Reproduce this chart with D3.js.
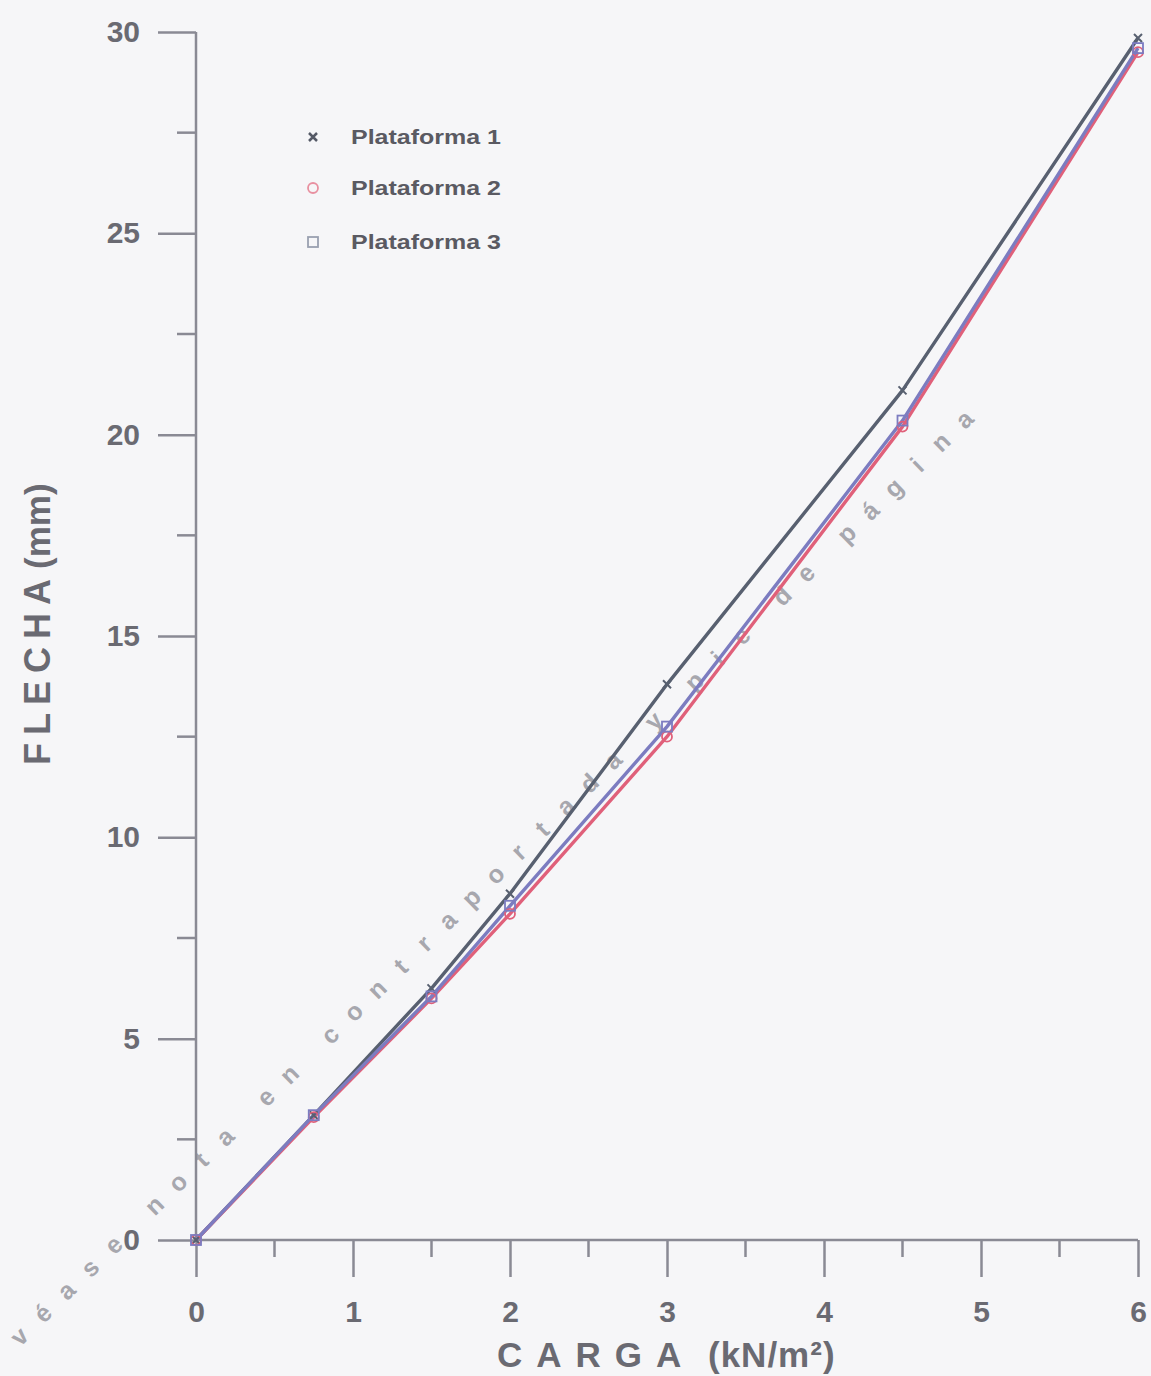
<!DOCTYPE html>
<html><head><meta charset="utf-8">
<script src="https://cdn.jsdelivr.net/npm/d3@7"></script>
<style>html,body{margin:0;padding:0;background:#f6f6f8;}svg{display:block;}</style>
</head><body>
<svg id="c" width="1151" height="1376"></svg>
<script>
const carga = [0, 0.75, 1.5, 2, 3, 4.5, 6];
const plataforma1 = [0, 3.1, 6.25, 8.6, 13.8, 21.1, 29.85];
const plataforma2 = [0, 3.05, 6.0, 8.1, 12.5, 20.2, 29.5];
const plataforma3 = [0, 3.1, 6.05, 8.3, 12.75, 20.35, 29.6];
const seriesNames = ["Plataforma 1", "Plataforma 2", "Plataforma 3"];
const xTicks = [0, 1, 2, 3, 4, 5, 6];
const yTicks = [0, 5, 10, 15, 20, 25, 30];
const xMinor = [0.5, 1.5, 2.5, 3.5, 4.5, 5.5];
const yMinor = [2.5, 7.5, 12.5, 17.5, 22.5, 27.5];
const watermark = "véase nota en contraportada y pie de página";

const svg = d3.select("#c");
const x = d3.scaleLinear().domain([0, 6]).range([196, 1138]);
const y = d3.scaleLinear().domain([0, 30]).range([1240, 32]);
const axisColor = "#8a8a94";
const textColor = "#6a6a72";
const font = "Liberation Sans, Arial, sans-serif";

// watermark: letters laid along a diagonal
(function () {
  const x0 = 20, y0 = 1337, x1 = 965, y1 = 420;
  const words = watermark.split(" ");
  const nLetterGaps = words.reduce((s, w) => s + w.length - 1, 0);
  const nWordGaps = words.length - 1;
  const total = Math.hypot(x1 - x0, y1 - y0);
  const ratio = 1.73;
  const p = total / (nLetterGaps + ratio * nWordGaps);
  const ang = Math.atan2(y1 - y0, x1 - x0);
  const chars = [];
  let d = 0;
  words.forEach((w, wi) => {
    if (wi > 0) d += p * ratio - p;
    for (const ch of w) { chars.push({ ch, d }); d += p; }
  });
  svg.append("g").selectAll("text").data(chars).join("text")
    .attr("transform", c => `translate(${x0 + c.d * Math.cos(ang)},${y0 + c.d * Math.sin(ang)}) rotate(${ang * 180 / Math.PI})`)
    .attr("text-anchor", "middle").attr("dy", "0.3em")
    .attr("font-family", font).attr("font-size", 25).attr("font-weight", "bold")
    .attr("fill", "#9a9aa2").attr("opacity", 0.85)
    .text(c => c.ch);
})();

// axes
const gx = svg.append("g").attr("transform", `translate(0,${y(0)})`)
  .call(d3.axisBottom(x).tickValues(xTicks).tickSize(37).tickPadding(24).tickFormat(d3.format("d")));
const gy = svg.append("g").attr("transform", `translate(${x(0)},0)`)
  .call(d3.axisLeft(y).tickValues(yTicks).tickSize(38).tickPadding(18).tickFormat(d3.format("d")));
[gx, gy].forEach(g => {
  g.select(".domain").attr("stroke", axisColor).attr("stroke-width", 2.5);
  g.selectAll(".tick line").attr("stroke", axisColor).attr("stroke-width", 2.5);
  g.selectAll(".tick text").attr("fill", textColor)
    .attr("font-family", font)
    .attr("font-size", 30).attr("font-weight", "bold");
});
gx.select(".domain").attr("d", `M${x(0)},0H${x(6)}`);
gy.select(".domain").attr("d", `M0,${y(0)}V${y(30)}`);
svg.append("g").selectAll("line").data(xMinor).join("line")
  .attr("x1", d => x(d)).attr("x2", d => x(d))
  .attr("y1", y(0)).attr("y2", y(0) + 17)
  .attr("stroke", axisColor).attr("stroke-width", 2.5);
svg.append("g").selectAll("line").data(yMinor).join("line")
  .attr("y1", d => y(d)).attr("y2", d => y(d))
  .attr("x1", x(0)).attr("x2", x(0) - 19)
  .attr("stroke", axisColor).attr("stroke-width", 2.5);

// titles
const xt = svg.append("text").attr("y", 1367)
  .attr("font-family", font).attr("fill", textColor).attr("font-weight", "bold");
xt.append("tspan").attr("x", 497).attr("font-size", 35).attr("letter-spacing", "14px").text("CARGA");
xt.append("tspan").attr("x", 708).attr("font-size", 35).attr("letter-spacing", "1px").text("(kN/m²)");

const yt = svg.append("text").attr("transform", "translate(50,765) rotate(-90)")
  .attr("font-family", font).attr("fill", textColor).attr("font-weight", "bold");
yt.append("tspan").attr("font-size", 36).attr("letter-spacing", "8px").text("FLECHA");
yt.append("tspan").attr("font-size", 35).attr("dx", 2).text("(mm)");

// series
const colors = ["#586070", "#e0607a", "#7c7cc0"];
const data = [plataforma1, plataforma2, plataforma3];
const line = d3.line().x((d, i) => x(carga[i])).y(d => y(d));
[0, 1, 2].forEach(k => {
  svg.append("path").datum(data[k]).attr("d", line)
    .attr("fill", "none").attr("stroke", colors[k]).attr("stroke-width", 3.4)
    .attr("stroke-linejoin", "round");
});
// markers
const mk = svg.append("g");
data[0].forEach((v, i) => {
  const cx = x(carga[i]), cy = y(v);
  mk.append("path").attr("d", `M${cx-4},${cy-4}L${cx+4},${cy+4}M${cx-4},${cy+4}L${cx+4},${cy-4}`)
    .attr("stroke", colors[0]).attr("stroke-width", 2);
});
data[1].forEach((v, i) => {
  mk.append("circle").attr("cx", x(carga[i])).attr("cy", y(v)).attr("r", 5)
    .attr("fill", "none").attr("stroke", colors[1]).attr("stroke-width", 1.8);
});
data[2].forEach((v, i) => {
  mk.append("rect").attr("x", x(carga[i]) - 5).attr("y", y(v) - 5).attr("width", 10).attr("height", 10)
    .attr("fill", "none").attr("stroke", colors[2]).attr("stroke-width", 1.8);
});

// legend
const leg = svg.append("g");
const legY = [137, 188, 242];
seriesNames.forEach((n, i) => {
  const cx = 313, cy = legY[i];
  if (i === 0) leg.append("path").attr("d", `M${cx-4},${cy-4}L${cx+4},${cy+4}M${cx-4},${cy+4}L${cx+4},${cy-4}`)
    .attr("stroke", "#555a66").attr("stroke-width", 2.5);
  if (i === 1) leg.append("circle").attr("cx", cx).attr("cy", cy).attr("r", 5)
    .attr("fill", "none").attr("stroke", "#e890a0").attr("stroke-width", 1.8);
  if (i === 2) leg.append("rect").attr("x", cx - 5).attr("y", cy - 5).attr("width", 10).attr("height", 10)
    .attr("fill", "none").attr("stroke", "#9aa0b0").attr("stroke-width", 1.8);
  leg.append("text").attr("x", 351).attr("y", cy + 7)
    .attr("font-family", font).attr("font-size", 20).attr("font-weight", "bold")
    .attr("textLength", 150).attr("lengthAdjust", "spacingAndGlyphs")
    .attr("fill", "#5a5a62").text(n);
});
</script>
</body></html>
